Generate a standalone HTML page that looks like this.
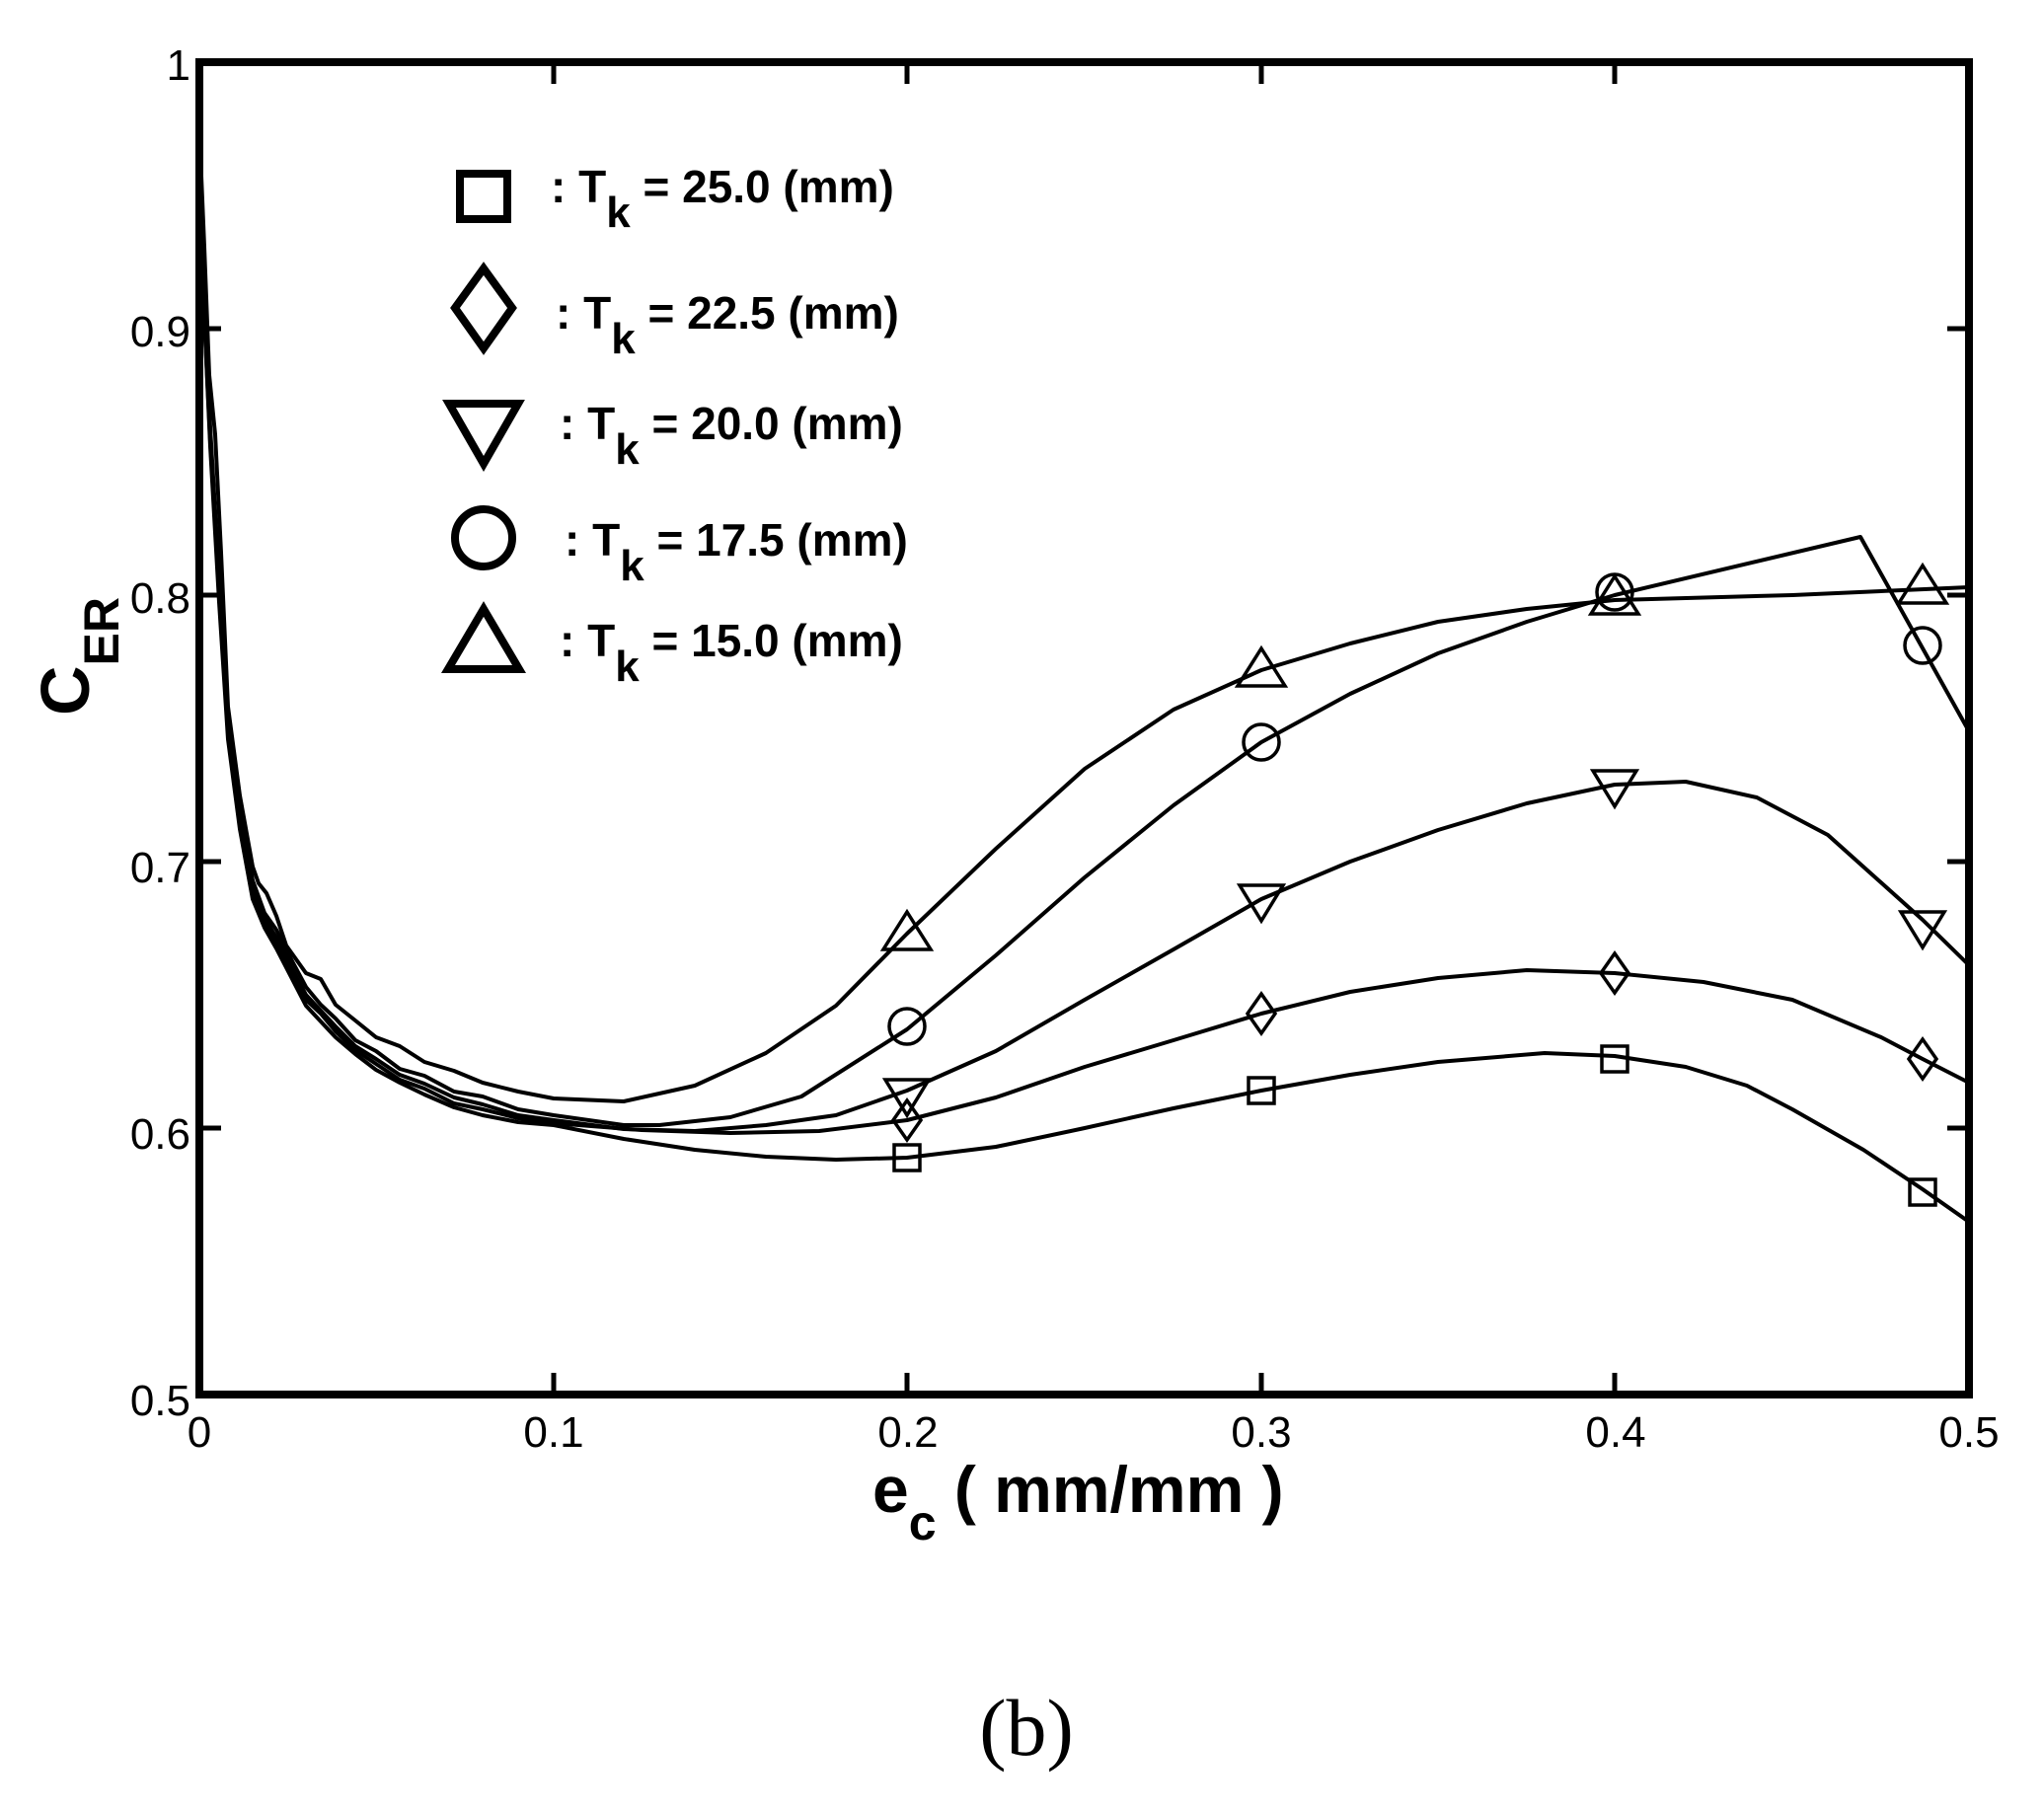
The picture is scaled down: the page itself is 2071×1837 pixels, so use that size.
<!DOCTYPE html>
<html><head><meta charset="utf-8"><style>
html,body{margin:0;padding:0;background:#fff;}
svg{display:block;}
</style></head><body>
<svg width="2071" height="1837" viewBox="0 0 2071 1837" xmlns="http://www.w3.org/2000/svg">
<g fill="none" stroke="#000" stroke-width="4" stroke-linejoin="round">
<!-- 25.0 -->
<polyline points="202,131 206,300 213,452 222,610 231,749 243,840 256,911 268,940 280,961 295,990 310,1019 325,1035 340,1051 360,1068 381,1084 405,1097 430,1109 460,1122 489,1130 525,1137 561,1140 632,1154 704,1165 776,1172 847,1175 919,1173 1009,1162 1099,1143 1189,1123 1278,1105 1368,1089 1457,1076 1565,1067 1636,1070 1708,1081 1770,1100 1816,1124 1888,1165 1948,1205 1995,1238"/>
<!-- 22.5 -->
<polyline points="202,131 206,300 213,447 222,600 231,743 243,835 256,905 268,933 280,955 295,986 310,1013 325,1027 340,1045 360,1064 381,1078 405,1094 430,1103 460,1118 489,1124 525,1133 561,1138 650,1145 740,1148 830,1146 919,1135 1009,1112 1099,1081 1189,1054 1278,1027 1368,1005 1457,991 1547,983 1636,986 1726,995 1816,1013 1906,1051 1948,1073 1995,1097"/>
<!-- 20.0 -->
<polyline points="202,131 206,290 213,441 222,595 231,738 243,830 256,900 268,930 280,950 295,980 310,1008 325,1024 340,1040 360,1060 381,1073 405,1089 430,1098 460,1112 489,1119 525,1130 561,1135 632,1144 704,1146 776,1140 847,1130 919,1105 1009,1065 1099,1013 1189,962 1278,911 1368,873 1457,841 1547,814 1636,795 1708,792 1780,808 1852,846 1948,932 1995,978"/>
<!-- 17.5 -->
<polyline points="202,131 206,280 213,433 222,585 231,730 243,822 256,892 268,925 280,942 295,972 310,1000 325,1018 340,1032 360,1054 381,1065 405,1083 430,1090 460,1106 489,1111 525,1124 561,1130 632,1140 668,1140 740,1132 812,1111 919,1043 1009,968 1099,889 1189,816 1278,752 1368,703 1457,662 1547,630 1636,603 1885,544 1995,741"/>
<!-- 15.0 -->
<polyline points="202,131 207,250 212,380 218,440 224,560 231,716 243,806 256,878 262,895 270,905 280,928 290,958 310,986 325,992 340,1018 360,1034 381,1051 405,1060 430,1076 460,1085 489,1097 525,1106 561,1113 632,1116 704,1100 776,1067 847,1019 919,946 1009,860 1099,779 1189,719 1278,679 1368,652 1457,630 1547,617 1636,608 1816,603 1995,595"/>
</g>
<g fill="none" stroke="#000" stroke-width="3.5">
<rect x="906" y="1160" width="26" height="26"/><rect x="1265" y="1092" width="26" height="26"/><rect x="1623" y="1060" width="26" height="26"/><rect x="1935" y="1195" width="26" height="26"/>
<polygon points="919,1115 933,1135 919,1155 905,1135"/><polygon points="1278,1007 1292,1027 1278,1047 1264,1027"/><polygon points="1636,966 1650,986 1636,1006 1622,986"/><polygon points="1948,1053 1962,1073 1948,1093 1934,1073"/>
<polygon points="897,1094 941,1094 919,1130"/><polygon points="1256,897 1300,897 1278,933"/><polygon points="1614,781 1658,781 1636,817"/><polygon points="1926,924 1970,924 1948,960"/>
<circle cx="919" cy="1040" r="18"/><circle cx="1278" cy="752" r="18"/><circle cx="1636" cy="600" r="18"/><circle cx="1948" cy="654" r="18"/>
<polygon points="919,924 943,962 895,962"/><polygon points="1278,657 1302,695 1254,695"/><polygon points="1636,584 1660,622 1612,622"/><polygon points="1948,573 1972,611 1924,611"/>
</g>
<rect x="202" y="63" width="1793" height="1350" fill="none" stroke="#000" stroke-width="8"/>
<g stroke="#000" stroke-width="5">
<line x1="561" y1="1413" x2="561" y2="1391"/><line x1="919" y1="1413" x2="919" y2="1391"/><line x1="1278" y1="1413" x2="1278" y2="1391"/><line x1="1636" y1="1413" x2="1636" y2="1391"/>
<line x1="561" y1="63" x2="561" y2="85"/><line x1="919" y1="63" x2="919" y2="85"/><line x1="1278" y1="63" x2="1278" y2="85"/><line x1="1636" y1="63" x2="1636" y2="85"/>
<line x1="202" y1="333" x2="224" y2="333"/><line x1="202" y1="603" x2="224" y2="603"/><line x1="202" y1="873" x2="224" y2="873"/><line x1="202" y1="1143" x2="224" y2="1143"/>
<line x1="1995" y1="333" x2="1973" y2="333"/><line x1="1995" y1="603" x2="1973" y2="603"/><line x1="1995" y1="873" x2="1973" y2="873"/><line x1="1995" y1="1143" x2="1973" y2="1143"/>
</g>
<g font-family="Liberation Sans, sans-serif" font-size="44" fill="#000">
<g text-anchor="middle">
<text x="202" y="1466">0</text><text x="561" y="1466">0.1</text><text x="920" y="1466">0.2</text>
<text x="1278" y="1466">0.3</text><text x="1637" y="1466">0.4</text><text x="1995" y="1466">0.5</text>
</g>
<g text-anchor="end">
<text x="193" y="1434">0.5</text><text x="193" y="1164">0.6</text><text x="193" y="894">0.7</text>
<text x="193" y="621">0.8</text><text x="193" y="351">0.9</text><text x="193" y="81">1</text>
</g>
</g>
<g font-family="Liberation Sans, sans-serif" font-weight="bold" fill="#000">
<text x="884" y="1532" font-size="66">e<tspan font-size="50" dy="28">c</tspan><tspan dy="-28" font-size="66"> ( mm/mm )</tspan></text>
<text transform="translate(90,725) rotate(-90)" font-size="70">C<tspan font-size="50" dy="30">ER</tspan></text>
<g font-size="46">
<text x="558" y="205">: T<tspan dy="25" font-size="44">k</tspan><tspan dy="-25"> = 25.0 (mm)</tspan></text>
<text x="563" y="333">: T<tspan dy="25" font-size="44">k</tspan><tspan dy="-25"> = 22.5 (mm)</tspan></text>
<text x="567" y="445">: T<tspan dy="25" font-size="44">k</tspan><tspan dy="-25"> = 20.0 (mm)</tspan></text>
<text x="572" y="563">: T<tspan dy="25" font-size="44">k</tspan><tspan dy="-25"> = 17.5 (mm)</tspan></text>
<text x="567" y="665">: T<tspan dy="25" font-size="44">k</tspan><tspan dy="-25"> = 15.0 (mm)</tspan></text>
</g>
</g>
<g fill="none" stroke="#000" stroke-width="8">
<rect x="466" y="176" width="48" height="46"/>
<polygon points="490,272 519,312 490,353 461,312"/>
<polygon points="455,409 525,409 490,470"/>
<circle cx="490" cy="545" r="29"/>
<polygon points="490,617 526,678 454,678"/>
</g>
<text x="1040" y="1778" font-family="Liberation Serif, serif" font-size="82" text-anchor="middle" fill="#000">(b)</text>
</svg>
</body></html>
